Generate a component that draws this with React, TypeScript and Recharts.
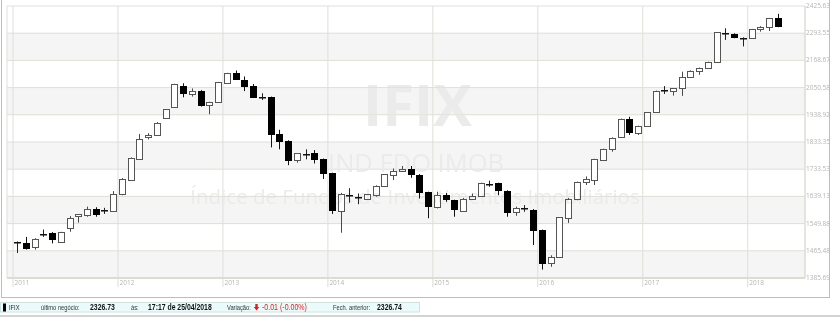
import React from 'react';
import { ComposedChart, Bar, XAxis, YAxis, CartesianGrid, ReferenceLine } from 'recharts';

// Monthly IFIX candles, Jan 2011 .. Apr 2018
const opens = [
  1493, 1490, 1477, 1515, 1521, 1492, 1536, 1574, 1578, 1598, 1592, 1591,
  1646, 1695, 1771, 1851, 1860, 1925, 1972, 2057, 2024, 2036, 1978, 1990,
  2071, 2112, 2083, 2058, 2013, 2010, 1863, 1837, 1767, 1790, 1793, 1769,
  1719, 1591, 1645, 1638, 1631, 1644, 1676, 1713, 1727, 1736, 1713, 1653,
  1605, 1643, 1626, 1592, 1632, 1640, 1683, 1684, 1658, 1586, 1599, 1595,
  1529, 1430, 1447, 1569, 1632, 1689, 1695, 1767, 1807, 1851, 1921, 1869,
  1895, 1949, 2039, 2038, 2047, 2095, 2124, 2135, 2160, 2293, 2290, 2273,
  2270, 2312, 2325, 2366,
];
const highs = [
  1494, 1508, 1504, 1531, 1523, 1524, 1574, 1581, 1605, 1603, 1601, 1657,
  1702, 1776, 1864, 1867, 1910, 1962, 2067, 2069, 2047, 2040, 1992, 2075,
  2114, 2124, 2098, 2066, 2027, 2013, 1880, 1840, 1792, 1806, 1803, 1772,
  1721, 1651, 1667, 1649, 1647, 1677, 1716, 1736, 1745, 1745, 1716, 1655,
  1655, 1651, 1628, 1634, 1649, 1686, 1693, 1686, 1660, 1605, 1610, 1597,
  1531, 1452, 1571, 1634, 1690, 1708, 1771, 1808, 1851, 1924, 1931, 1896,
  1950, 2038, 2057, 2049, 2119, 2125, 2137, 2163, 2299, 2317, 2293, 2274,
  2314, 2327, 2367, 2387,
];
const lows = [
  1459, 1469, 1469, 1508, 1488, 1490, 1524, 1553, 1572, 1572, 1581, 1588,
  1643, 1694, 1770, 1843, 1858, 1924, 1970, 2010, 2013, 1972, 1941, 1988,
  2070, 2083, 2036, 2009, 1999, 1813, 1806, 1748, 1757, 1769, 1754, 1699,
  1581, 1521, 1618, 1613, 1629, 1638, 1671, 1695, 1724, 1703, 1632, 1567,
  1599, 1621, 1572, 1589, 1630, 1638, 1672, 1643, 1572, 1575, 1588, 1483,
  1410, 1418, 1446, 1552, 1626, 1678, 1678, 1765, 1797, 1850, 1860, 1860,
  1894, 1948, 2024, 2017, 2016, 2093, 2105, 2134, 2159, 2262, 2270, 2232,
  2269, 2301, 2304, 2322,
];
const closes = [
  1493, 1474, 1500, 1516, 1503, 1523, 1567, 1580, 1597, 1580, 1593, 1646,
  1699, 1773, 1843, 1859, 1906, 1961, 2066, 2029, 2036, 1979, 1991, 2073,
  2112, 2086, 2058, 2013, 2012, 1864, 1837, 1767, 1791, 1789, 1769, 1719,
  1594, 1646, 1642, 1634, 1646, 1676, 1715, 1727, 1736, 1716, 1655, 1607,
  1643, 1629, 1596, 1632, 1640, 1684, 1683, 1661, 1588, 1600, 1598, 1531,
  1430, 1447, 1570, 1632, 1688, 1698, 1769, 1807, 1850, 1922, 1871, 1895,
  1949, 2036, 2040, 2047, 2095, 2124, 2135, 2162, 2298, 2294, 2278, 2273,
  2312, 2325, 2366, 2326.73,
];

const yearLabels = ['2011', '2012', '2013', '2014', '2015', '2016', '2017', '2018'];
const yTicks = [1385.69, 1465.48, 1549.88, 1639.13, 1733.53, 1833.35, 1938.92, 2050.58, 2168.67, 2293.55, 2425.63];

const X_MIN = -0.69;
const X_MAX = 90.55;
const yearTicks = yearLabels.map((_, j) => j * 12);

const data = opens.map((o, i) => ({
  t: i + 0.5,
  open: o,
  high: highs[i],
  low: lows[i],
  close: closes[i],
}));

const Candle = (props: any) => {
  const { x, y, width, height, payload } = props;
  if (x == null || y == null || !payload) return null;
  const { open, close, high, low } = payload;
  const top = Math.min(y, y + height);
  const h = Math.abs(height);
  const lh = Math.log(high);
  const ll = Math.log(low);
  const py = (v: number) => (lh === ll ? top : top + ((lh - Math.log(v)) / (lh - ll)) * h);
  const cx = Math.round(x + width / 2);
  const yo = py(open);
  const yc = py(close);
  const up = close >= open;
  const bt = Math.min(yo, yc);
  const bb = Math.max(yo, yc);
  const doji = bb - bt < 1.2;
  const wickColor = up ? '#4a4a4a' : '#111';
  return (
    <g>
      <line x1={cx + 0.5} x2={cx + 0.5} y1={top} y2={top + h} stroke={doji ? '#222' : wickColor} strokeWidth={1} />
      {doji ? (
        <rect x={cx - 3} y={Math.round(bt)} width={7} height={1.5} fill="#111" />
      ) : (
        <rect
          x={cx - 2.5}
          y={Math.round(bt) + 0.5}
          width={6}
          height={Math.max(1, Math.round(bb) - Math.round(bt))}
          fill={up ? '#ffffff' : '#000000'}
          stroke={up ? '#555' : '#000'}
          strokeWidth={1}
        />
      )}
    </g>
  );
};

const YearTick = (props: any) => {
  const { x, y, payload } = props;
  const idx = yearTicks.indexOf(payload.value);
  return (
    <text x={x + 1.5} y={y - 2} fontSize={6.5} fill="#b5b5b5" fontFamily="'Open Sans', sans-serif" textAnchor="start">
      {yearLabels[idx]}
    </text>
  );
};

const PriceTick = (props: any) => {
  const { x, y, payload } = props;
  return (
    <text x={x} y={y + 2} fontSize={6.5} fill="#b5b5b5" fontFamily="'Open Sans', sans-serif" textAnchor="start">
      {Number(payload.value).toFixed(2)}
    </text>
  );
};

const footerFont = "'Liberation Sans', Arial, sans-serif";

const FooterText = ({ x, size, bold, color, children }: any) => (
  <g transform={`translate(${x},12) scale(0.8,1)`}>
    <text x={0} y={0} fontSize={size} fontWeight={bold ? 'bold' : 'normal'} fontFamily={footerFont} fill={color}>
      {children}
    </text>
  </g>
);

export default function App() {
  return (
    <div style={{ position: 'absolute', left: 0, top: 0, width: 840, height: 323, background: '#fff', overflow: 'hidden' }}>
      <div style={{ position: 'absolute', left: 0, top: 0 }}>
        <ComposedChart width={830} height={298} data={data} margin={{ top: 6, right: 1, bottom: 0, left: 7 }}>
          <CartesianGrid stroke="#dfdfd7" horizontalFill={['#ffffff', '#f5f5f5']} />
          <XAxis
            type="number"
            dataKey="t"
            domain={[X_MIN, X_MAX]}
            ticks={yearTicks}
            interval={0}
            allowDataOverflow
            height={20}
            axisLine={{ stroke: '#dcdcd4', strokeWidth: 2 }}
            tickLine={{ stroke: '#dcdcd4' }}
            tickSize={9}
            tickMargin={0}
            tick={<YearTick />}
          />
          <YAxis
            orientation="right"
            scale="log"
            domain={[yTicks[0], yTicks[yTicks.length - 1]]}
            ticks={yTicks}
            interval={0}
            allowDataOverflow
            width={24}
            axisLine={false}
            tickLine={false}
            tickSize={0}
            tickMargin={1}
            tick={<PriceTick />}
          />
          <ReferenceLine x={X_MAX} stroke="#dcdcd4" />
          <Bar
            dataKey={(d: any) => [d.low, d.high]}
            barSize={6}
            shape={(p: any) => <Candle {...p} />}
            isAnimationActive={false}
          />
        </ComposedChart>
      </div>
      <svg
        width={830}
        height={298}
        style={{ position: 'absolute', left: 0, top: 0, mixBlendMode: 'darken', pointerEvents: 'none' }}
      >
        <text x={417.5} y={126} fontSize={58} fontWeight="bold" fontFamily="'Open Sans', sans-serif" fill="#ebebeb" textAnchor="middle">IFIX</text>
        <text x={416} y={171.5} fontSize={25.5} fontFamily="'Open Sans', sans-serif" fill="#ebebeb" textAnchor="middle">IND FDO IMOB</text>
        <text x={415} y={203.5} fontSize={20.5} fontFamily="'Open Sans', sans-serif" fill="#ebebeb" textAnchor="middle">Índice de Fundos de Investimentos Imobiliários</text>
      </svg>
      <div
        style={{
          position: 'absolute',
          left: 1,
          top: -1,
          width: 829,
          height: 299,
          boxSizing: 'border-box',
          border: '1px solid #bdbdbd',
          borderTop: 'none',
          pointerEvents: 'none',
        }}
      />
      <svg width={840} height={25} style={{ position: 'absolute', left: 0, top: 298 }}>
        <rect x={0.5} y={4.5} width={419} height={9.5} fill="#ebfbfb" stroke="#cfe2e2" />
        <rect x={3} y={5.5} width={3} height={8} fill="#000" />
        <FooterText x={9} size={7.2} color="#222">IFIX</FooterText>
        <FooterText x={41} size={7.2} color="#333">último negócio:</FooterText>
        <FooterText x={90} size={8.6} bold color="#111">2326.73</FooterText>
        <FooterText x={131} size={7.2} color="#333">às:</FooterText>
        <FooterText x={148} size={8.6} bold color="#111">17:17 de 25/04/2018</FooterText>
        <FooterText x={227} size={7.2} color="#333">Variação:</FooterText>
        <path d="M255.3,6 h2.4 v3 h1.6 l-2.8,3.5 l-2.8,-3.5 h1.6 z" fill="#e21b1b" />
        <FooterText x={262} size={8.8} color="#e21b1b">-0.01 (-0.00%)</FooterText>
        <FooterText x={333} size={7.2} color="#333">Fech. anterior:</FooterText>
        <FooterText x={377} size={8.6} bold color="#111">2326.74</FooterText>
        <rect x={0} y={17} width={840} height={2} fill="#d3d3d3" />
      </svg>
    </div>
  );
}
